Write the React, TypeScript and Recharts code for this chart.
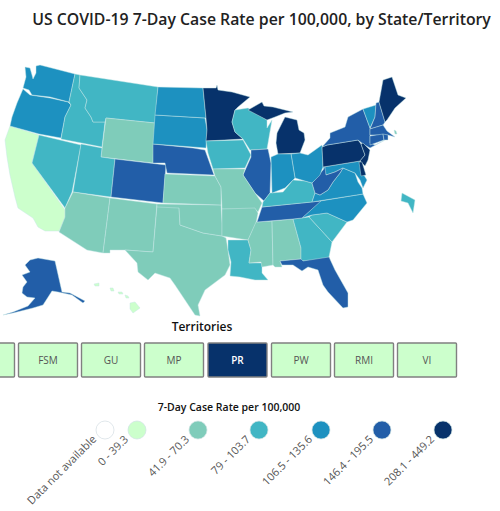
import React from "react";
import { ScatterChart, Scatter, XAxis, YAxis } from "recharts";

type P = [number, number];

const binColors = ["#ffffff", "#ccffcc", "#7fccba", "#41b6c4", "#1d91c0", "#225ea8", "#07326b"];
const binLabels = ["Data not available", "0 - 39.3", "41.9 - 70.3", "79 - 103.7", "106.5 - 135.6", "146.4 - 195.5", "208.1 - 449.2"];
const legendX = [105, 137, 198, 259, 321, 382, 443];
const territoryNames = ["AS", "FSM", "GU", "MP", "PR", "PW", "RMI", "VI"];
const territoryBins = [1, 1, 1, 1, 6, 1, 1, 1];
const territoryX = [-15, 48, 111, 174, 237.5, 301, 364, 427];

// State outlines in map units, with each state's rate class
const WA: P[] = [[25,67],[30,68],[32,75],[33,79],[36,73],[36,66],[40,65],[75,74],[69,102],[50,97],[32,95],[29,90],[23,88],[26,77]];
const OR: P[] = [[23,89],[30,95],[50,98],[68,102],[71,105],[65,117],[61,138],[39,134],[10,126],[12,117],[17,103]];
const CA: P[] = [[10,126],[39,135],[32,163],[65,210],[65,217],[61,227],[59,231],[45,231],[38,227],[33,218],[18,208],[15,197],[10,175],[7,157],[5,140]];
const NV: P[] = [[39,135],[81,145],[72,192],[65,208],[32,163]];
const ID: P[] = [[75,74],[80,75],[79,88],[87,100],[85,108],[91,117],[93,122],[105,122],[102,147],[61,139],[65,117],[71,105],[69,102]];
const MT: P[] = [[80,75],[158,87],[155,123],[106,118],[105,122],[93,122],[91,117],[85,108],[87,100],[79,88]];
const WY: P[] = [[106,118],[155,123],[153,163],[101,157]];
const UT: P[] = [[81,144],[102,148],[101,157],[115,159],[111,197],[73,192]];
const CO: P[] = [[115,159],[166,165],[163,203],[111,197]];
const AZ: P[] = [[73,192],[110,198],[103,253],[87,250],[59,232],[61,227],[65,217],[65,208]];
const NM: P[] = [[110,198],[157,204],[153,252],[125,250],[110,250],[110,253],[103,253]];
const TX: P[] = [[157,206],[179,206],[180,225],[203,233],[222,236],[226,238],[228,250],[230,265],[225,275],[205,290],[198,305],[200,316],[195,315],[185,300],[175,285],[170,278],[155,273],[148,280],[138,272],[137,263],[125,250],[153,252]];
const OK: P[] = [[157,204],[221,205],[222,223],[222,236],[203,233],[180,225],[179,208],[157,207]];
const KS: P[] = [[165,174],[215,176],[221,187],[221,205],[163,203]];
const NE: P[] = [[153,144],[193,148],[205,150],[214,175],[167,173],[165,163],[153,163]];
const SD: P[] = [[155,115],[205,118],[207,130],[206,148],[193,147],[153,144]];
const ND: P[] = [[158,87],[203,88],[206,118],[155,115]];
const MN: P[] = [[203,88],[216,88],[217,85],[218,90],[232,92],[250,97],[238,107],[235,110],[232,122],[235,132],[243,139],[206,141],[207,130],[206,118]];
const WI: P[] = [[235,110],[248,108],[267,120],[267,128],[272,120],[267,149],[250,150],[243,139],[235,132],[232,122]];
const MIU: P[] = [[248,110],[262,102],[264,106],[273,107],[293,112],[285,113],[275,117],[267,120]];
const MIL: P[] = [[278,154],[276,143],[277,133],[285,117],[297,120],[299,130],[304,133],[305,140],[300,153]];
const IA: P[] = [[206,141],[243,140],[251,155],[245,168],[213,169],[208,153]];
const IL: P[] = [[251,150],[268,149],[271,163],[270,193],[264,201],[255,193],[243,175],[251,157]];
const MO: P[] = [[213,169],[245,169],[243,175],[255,193],[262,203],[258,212],[255,209],[222,209],[221,187],[215,176]];
const AR: P[] = [[222,209],[255,208],[258,213],[256,223],[248,240],[222,236]];
const LA: P[] = [[228,240],[248,240],[251,250],[249,263],[262,263],[262,273],[268,280],[255,280],[240,277],[230,276],[231,262],[228,250]];
const MS: P[] = [[256,222],[272,221],[273,265],[262,267],[261,262],[249,263],[251,250],[248,240]];
const AL: P[] = [[272,221],[293,219],[301,248],[301,259],[280,261],[282,267],[275,267],[273,265]];
const GA: P[] = [[293,219],[309,217],[332,242],[329,257],[330,260],[301,261],[301,248]];
const FL: P[] = [[280,261],[301,259],[303,261],[329,257],[335,270],[348,293],[348,307],[343,308],[328,292],[323,285],[318,270],[308,267],[302,271],[293,265],[282,265]];
const SC: P[] = [[309,217],[312,215],[327,213],[347,222],[335,238],[332,242]];
const NC: P[] = [[363,194],[367,203],[353,220],[347,222],[327,213],[312,215],[302,218],[320,201]];
const TN: P[] = [[262,207],[321,201],[302,218],[293,219],[257,222]];
const KY: P[] = [[262,207],[263,202],[270,193],[283,192],[293,180],[305,181],[312,183],[315,193],[312,202]];
const VA: P[] = [[312,202],[315,193],[320,195],[328,190],[333,182],[340,173],[343,168],[355,173],[358,182],[362,188],[363,194]];
const WV: P[] = [[312,183],[317,177],[323,170],[325,167],[326,175],[335,172],[343,168],[340,173],[333,182],[328,190],[320,195],[315,193]];
const OH: P[] = [[291,154],[300,153],[308,155],[322,145],[323,167],[320,175],[312,183],[305,181],[295,178]];
const IN: P[] = [[271,157],[278,154],[291,154],[295,178],[285,188],[272,193]];
const PA: P[] = [[322,147],[327,145],[358,140],[361,144],[365,155],[360,161],[323,167]];
const NY: P[] = [[322,147],[330,138],[330,133],[345,127],[348,117],[363,109],[370,128],[370,143],[375,145],[385,140],[370,148],[363,144],[358,140],[327,145]];
const NJ: P[] = [[361,144],[363,143],[370,150],[368,160],[365,166],[360,161],[365,155]];
const MD: P[] = [[323,167],[360,161],[362,172],[367,180],[363,188],[360,180],[355,173],[343,168],[335,172],[326,175]];
const DE: P[] = [[359,162],[362,162],[366,175],[361,176]];
const VT: P[] = [[363,109],[376,105],[375,117],[370,128]];
const NH: P[] = [[376,103],[379,102],[385,122],[383,125],[370,129],[375,117]];
const ME: P[] = [[379,102],[383,80],[392,77],[398,95],[406,98],[395,108],[387,120],[385,122]];
const MA: P[] = [[370,129],[383,125],[387,131],[395,137],[388,135],[370,135]];
const CT: P[] = [[370,136],[383,134],[384,140],[370,145]];
const RI: P[] = [[383,134],[388,135],[388,140],[384,140]];
const ISL: P[] = [[394,130],[396,131],[397,134],[395,134]];
const DC: P[] = [[402,193],[415,200],[413,213],[408,203],[401,201]];
const AK: P[] = [[30,260],[38,258],[55,261],[62,292],[70,293],[85,301],[83,303],[72,295],[58,292],[52,291],[43,305],[33,308],[13,313],[3,315],[13,312],[28,306],[35,298],[27,297],[22,293],[23,287],[27,282],[22,275],[30,272],[25,265]];
const HI1: P[] = [[130,303],[135,302],[140,308],[133,313],[130,309]];
const HI2: P[] = [[110,288],[113,288],[114,291],[111,291]];
const HI3: P[] = [[118,292],[122,292],[123,294],[119,294]];
const HI4: P[] = [[125,295],[128,296],[129,298],[126,298]];
const HI5: P[] = [[94,284],[99,283],[99,286],[95,286]];

const mapShapes: [P[], number][] = [
  [CA,1],[OR,4],[WA,4],[NV,3],[ID,3],[MT,3],[WY,2],[UT,3],[CO,5],[AZ,2],[NM,2],[TX,2],[OK,2],[KS,2],[NE,5],[SD,4],[ND,4],
  [MN,6],[WI,3],[MIU,6],[MIL,6],[IA,3],[IL,5],[MO,2],[AR,2],[LA,3],[MS,2],[AL,2],[GA,3],[FL,5],[SC,3],[NC,4],[TN,5],[KY,3],
  [VA,4],[MD,4],[WV,5],[OH,4],[IN,4],[PA,6],[NY,5],[NJ,6],[DE,6],[VT,4],[NH,5],[ME,6],[MA,5],[CT,5],[RI,5],[ISL,2],[DC,3],
  [AK,5],[HI1,1],[HI2,1],[HI3,1],[HI4,1],[HI5,1],
];

const legendData = binLabels.map((label, i) => ({ x: legendX[i], y: 430, label, bin: i }));
const territoryData = territoryNames.map((name, i) => ({ x: territoryX[i], y: 360, name, bin: territoryBins[i] }));

const font = "'Open Sans', 'Noto Sans', sans-serif";
const NoDot = () => <g />;

const TerritoryBox = (p: any) => {
  const selected = p.payload.bin === 6;
  return (
    <g>
      <rect x={p.cx - 29.5} y={p.cy - 17} width={59} height={34} fill={binColors[p.payload.bin]} stroke="#808080" strokeWidth={1.4} rx={1} />
      {p.cx > 0 && (
        <text x={p.cx} y={p.cy + 3.5} textAnchor="middle" fontFamily={font} fontSize={10} fontWeight={selected ? 600 : 400} fill={selected ? "#ffffff" : "#555555"}>{p.payload.name}</text>
      )}
    </g>
  );
};

const LegendKey = (p: any) => (
  <g>
    <circle cx={p.cx} cy={p.cy} r={9} fill={binColors[p.payload.bin]} stroke={p.payload.bin === 0 ? "#d3dde2" : "#cfe3e3"} strokeWidth={0.7} />
    <text x={p.cx - 8} y={p.cy + 10} transform={`rotate(-45 ${p.cx - 8} ${p.cy + 10})`} textAnchor="end" fontFamily={font} fontSize={11} fill="#555555">{p.payload.label}</text>
  </g>
);

export default function App() {
  return (
    <div style={{ position: "absolute", left: 0, top: 0 }}>
      <ScatterChart width={500} height={511} margin={{ top: 0, right: 0, bottom: 0, left: 0 }}>
        <XAxis type="number" dataKey="x" domain={[0, 500]} allowDataOverflow hide />
        <YAxis type="number" dataKey="y" domain={[0, 511]} allowDataOverflow reversed hide />
        {mapShapes.map(([pts, bin], i) => (
          <Scatter
            key={i}
            data={[...pts, pts[0]].map(([x, y]) => ({ x, y }))}
            isAnimationActive={false}
            shape={NoDot}
            line={{ fill: binColors[bin], stroke: "#c4e6e6", strokeWidth: 0.6, strokeOpacity: 0.75 }}
            lineJointType="linear"
          />
        ))}
        <Scatter data={territoryData} isAnimationActive={false} shape={TerritoryBox} />
        <Scatter data={legendData} isAnimationActive={false} shape={LegendKey} />
        <text x={261.5} y={25} textAnchor="middle" fontFamily={font} fontSize={15.8} fontWeight={600} fill="#222222">US COVID-19 7-Day Case Rate per 100,000, by State/Territory</text>
        <text x={202} y={331} textAnchor="middle" fontFamily={font} fontSize={12} fontWeight={600} fill="#111111">Territories</text>
        <text x={229} y={411} textAnchor="middle" fontFamily={font} fontSize={10.5} fontWeight={600} fill="#111111">7-Day Case Rate per 100,000</text>
      </ScatterChart>
    </div>
  );
}
